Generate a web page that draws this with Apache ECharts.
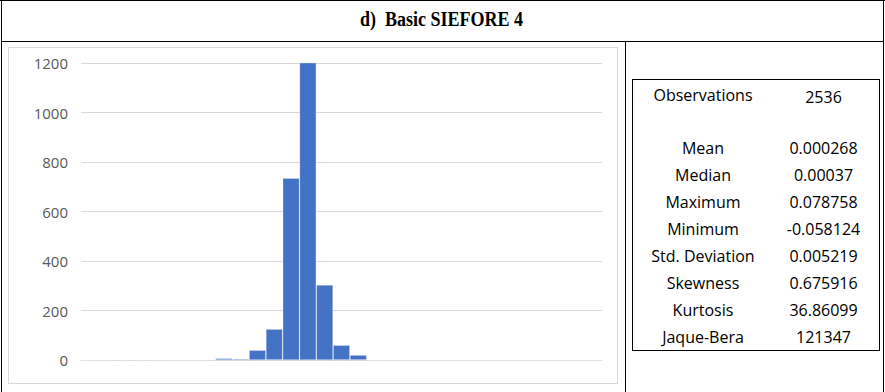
<!DOCTYPE html>
<html>
<head>
<meta charset="utf-8">
<script src="https://cdn.jsdelivr.net/npm/echarts@6/dist/echarts.min.js"></script>
<style>
  html, body { margin: 0; padding: 0; background: #fff; }
  #page { position: relative; width: 885px; height: 392px; overflow: hidden; font-family: "Liberation Sans", Arial, sans-serif; }
  .line { position: absolute; background: #000; }
  #title { position: absolute; left: 0; top: 0; width: 884px; height: 41px; line-height: 39px; text-align: center;
           font-family: "Liberation Serif", "Times New Roman", serif; font-weight: bold; font-size: 20px; color: #000; }
  #title span { display: inline-block; transform: scaleX(0.9); }
  #chartBox { position: absolute; left: 8px; top: 47px; width: 608px; height: 335px; border: 1px solid #d9d9d9; }
  #chart { width: 608px; height: 335px; }
  #stats { position: absolute; left: 632px; top: 79px; width: 246px; height: 270px; border: 1px solid #000; }
  .row { position: absolute; left: 0; width: 246px; height: 22px; font-family: "Open Sans", sans-serif; font-size: 16px; color: #000; }
  .row span { position: absolute; top: 0; text-align: center; white-space: nowrap; }
  .row .k { left: 0; width: 140px; }
  .row .v { left: 140px; width: 101px; }
</style>
</head>
<body>
<div id="page">
  <div class="line" style="left:0;top:0;width:885px;height:1px"></div>
  <div class="line" style="left:1px;top:0;width:1px;height:392px"></div>
  <div class="line" style="left:883px;top:0;width:1px;height:392px"></div>
  <div class="line" style="left:1px;top:41px;width:883px;height:1px"></div>
  <div class="line" style="left:625px;top:41px;width:1px;height:351px"></div>
  <div id="title"><span>d)&nbsp;&nbsp;Basic SIEFORE 4</span></div>
  <div id="chartBox"><div id="chart"></div></div>
  <div id="stats"></div>
</div>
<script>
// Histogram bins (31 equal-width bins of daily returns) and their frequencies
const bins = ['b1','b2','b3','b4','b5','b6','b7','b8','b9','b10','b11','b12','b13','b14','b15','b16',
              'b17','b18','b19','b20','b21','b22','b23','b24','b25','b26','b27','b28','b29','b30','b31'];
const counts = [0, 2, 2, 2, 2, 0, 0, 2, 7, 5, 40, 125, 735, 1210, 303, 60,
                20, 1, 2, 0, 0, 1, 1, 0, 1, 1, 1, 1, 1, 1, 0];
const yTicks = [0, 200, 400, 600, 800, 1000, 1200];

// Descriptive statistics
const statNames = ['Observations', 'Mean', 'Median', 'Maximum', 'Minimum', 'Std. Deviation', 'Skewness', 'Kurtosis', 'Jaque-Bera'];
const statValues = ['2536', '0.000268', '0.00037', '0.078758', '-0.058124', '0.005219', '0.675916', '36.86099', '121347'];
const statRowTop = [4, 57, 84, 111, 138, 165, 192, 219, 246];
const statValueShift = [2, 0, 0, 0, 0, 0, 0, 0, 0];

const stats = document.getElementById('stats');
statNames.forEach((name, i) => {
  const row = document.createElement('div');
  row.className = 'row';
  row.style.top = statRowTop[i] + 'px';
  row.innerHTML = '<span class="k">' + name + '</span><span class="v" style="top:' + statValueShift[i] + 'px">' + statValues[i] + '</span>';
  stats.appendChild(row);
});

const chart = echarts.init(document.getElementById('chart'), null, { renderer: 'svg' });
chart.setOption({
  animation: false,
  grid: { left: 72, right: 15, top: 15, bottom: 23 },
  xAxis: {
    type: 'category',
    data: bins,
    axisLine: { show: true, lineStyle: { color: '#d9d9d9', width: 1 } },
    axisTick: { show: false },
    axisLabel: { show: false },
    splitLine: { show: false }
  },
  yAxis: {
    type: 'value',
    min: yTicks[0],
    max: yTicks[yTicks.length - 1],
    interval: 200,
    axisLine: { show: false },
    axisTick: { show: false },
    axisLabel: { color: '#595959', fontSize: 15, fontFamily: 'Open Sans', margin: 13, formatter: v => String(v) },
    splitLine: { lineStyle: { color: '#d9d9d9', width: 1 } }
  },
  series: [{
    type: 'bar',
    data: counts,
    barCategoryGap: '0%',
    itemStyle: { color: '#4472c4', borderColor: 'rgba(255,255,255,0.35)', borderWidth: 0.7 }
  }]
});
</script>
</body>
</html>
